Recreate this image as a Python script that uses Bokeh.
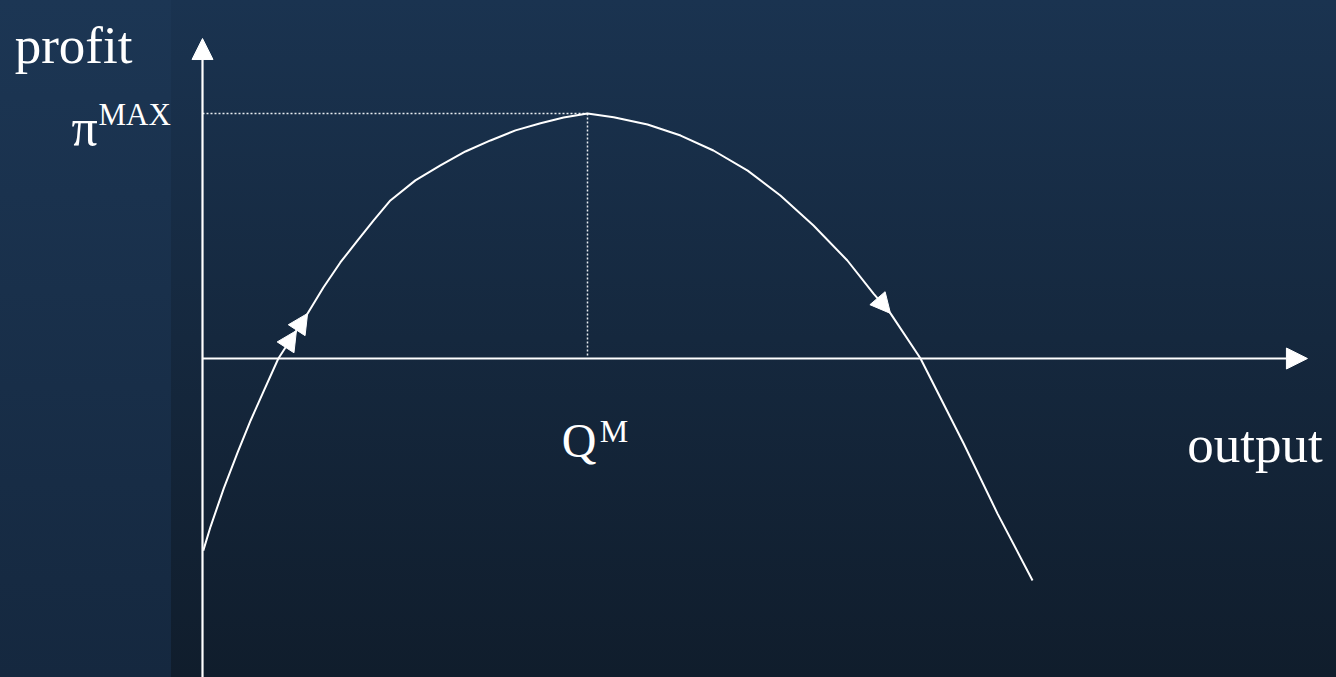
from bokeh.plotting import figure
from bokeh.models import Range1d, Arrow, NormalHead, Label
from bokeh.embed import file_html
from bokeh.resources import INLINE

# Profit curve: output q against profit pi (Q^M = 10, pi^MAX = 10)
output_q = [0.02, 0.21, 0.55, 0.91, 1.25, 1.56, 1.97, 2.44, 2.73, 3.14, 3.58,
            4.03, 4.44, 4.88, 5.53, 6.18, 6.83, 7.48, 8.13, 8.78, 9.38, 10.00,
            10.68, 11.56, 12.42, 13.27, 14.16, 15.01, 15.87, 16.75, 17.43,
            17.87, 18.65, 19.77, 20.65, 21.56]
profit_pi = [-7.84, -6.86, -5.31, -3.84, -2.53, -1.43, 0.00, 1.14, 1.84, 2.90,
             3.92, 4.82, 5.63, 6.45, 7.27, 7.88, 8.45, 8.90, 9.31, 9.60, 9.84,
             10.00, 9.85, 9.55, 9.10, 8.49, 7.67, 6.65, 5.43, 4.00, 2.65, 1.84,
             0.00, -3.47, -6.33, -9.06]

q_max = 10.0        # Q^M
pi_max = 10.0       # pi^MAX

# arrowheads drawn along the curve: (from index, to index)
curve_arrows = [(6, 7), (7, 8), (30, 31)]

# axis extents
x_lo, x_hi = -5.247, 29.455
y_lo, y_hi = -13.02, 14.612
x_axis_end = 28.70
y_axis_end = 13.06

# text labels: (text, q, pi, size)
labels = [
    ("profit", -4.88, 12.78, "53px"),
    ("π", -3.40, 9.43, "52px"),
    ("MAX", -2.70, 9.96, "31px"),
    ("Q", 9.33, -3.35, "48px"),
    ("M", 10.32, -2.94, "32px"),
    ("output", 25.58, -3.47, "53px"),
]

p = figure(width=1336, height=677, output_backend="svg", toolbar_location=None,
           x_range=Range1d(x_lo, x_hi), y_range=Range1d(y_lo, y_hi),
           x_axis_location=None, y_axis_location=None, min_border=0,
           background_fill_color=None, border_fill_color=None)
p.outline_line_color = None
p.grid.visible = False
p.styles = {
    "background": (
        "linear-gradient(to bottom, #1c3654, #15283f) left top / 171px 100% no-repeat, "
        "linear-gradient(to bottom, #1a3350, #101d2c)"
    )
}

white = "#ffffff"

# dotted guides to the maximum
p.line([0, q_max], [pi_max, pi_max], line_color="#e8ecf0", line_width=1.5, line_dash="2 2")
p.line([q_max, q_max], [pi_max, 0.1], line_color="#e8ecf0", line_width=1.5, line_dash="2 2")

# axes with arrowheads
p.add_layout(Arrow(x_start=0, y_start=y_lo, x_end=0, y_end=y_axis_end,
                   line_color=white, line_width=2.2,
                   end=NormalHead(size=21, fill_color=white, line_color=white, line_width=1)))
p.add_layout(Arrow(x_start=0, y_start=0, x_end=x_axis_end, y_end=0,
                   line_color=white, line_width=2.2,
                   end=NormalHead(size=21, fill_color=white, line_color=white, line_width=1)))

# profit curve
p.line(output_q, profit_pi, line_color=white, line_width=2, line_join="round")

for i0, i1 in curve_arrows:
    p.add_layout(Arrow(x_start=output_q[i0], y_start=profit_pi[i0],
                       x_end=output_q[i1], y_end=profit_pi[i1],
                       line_alpha=0, line_width=0,
                       end=NormalHead(size=20, fill_color=white, line_color=white, line_width=1)))

for text, qx, py, size in labels:
    p.add_layout(Label(x=qx, y=py, text=text, text_color=white,
                       text_font="Liberation Serif", text_font_size=size,
                       text_baseline="alphabetic", text_align="left"))

open("out.html", "w").write(file_html(p, INLINE))
